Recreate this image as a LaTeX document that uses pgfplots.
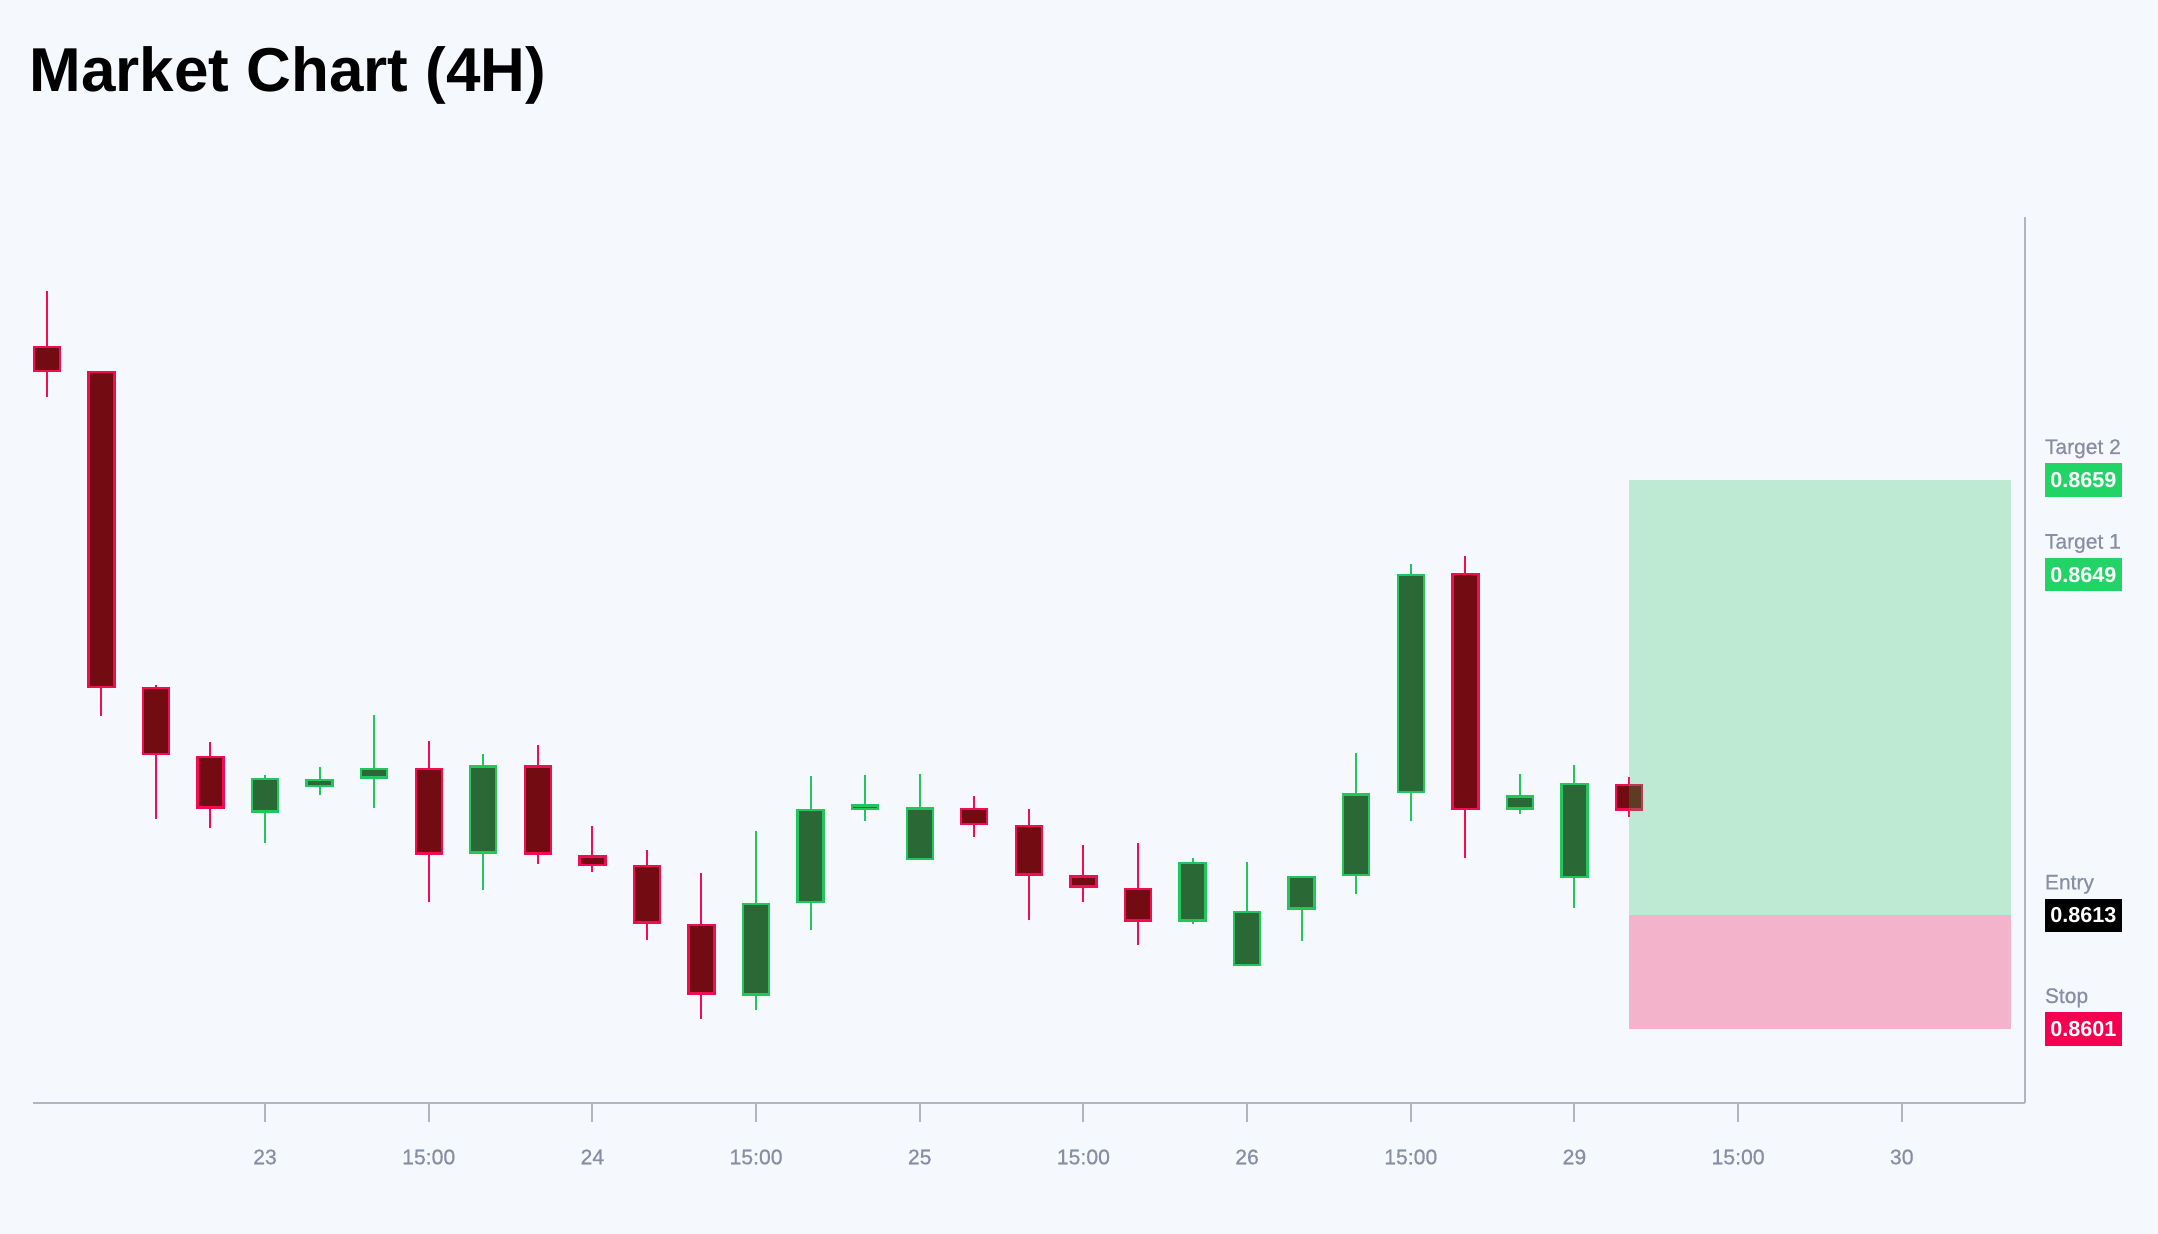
\documentclass[border=0pt]{standalone}
\usepackage{pgfplots}
\pgfplotsset{compat=1.18}
\usepackage{pgfplotstable}
\usepackage{fontspec}
\setmainfont{Liberation Sans}
\newfontfamily\medfont[FakeBold=0.6]{Liberation Sans}

\definecolor{bg}{RGB}{245,248,252}
\definecolor{bearfill}{RGB}{115,11,18}
\definecolor{bearline}{RGB}{242,12,82}
\definecolor{bullfill}{RGB}{42,104,54}
\definecolor{bullline}{RGB}{34,197,94}
\definecolor{axgray}{RGB}{178,181,190}
\definecolor{txtgray}{RGB}{137,141,166}
\definecolor{tgtgreen}{RGB}{34,211,102}
\definecolor{stopred}{RGB}{245,0,80}
\definecolor{zonegreen}{RGB}{34,197,94}
\definecolor{zonepink}{RGB}{240,20,90}

% bearish candles (close < open)
\pgfplotstableread{
i o h l c
0 0.867318 0.867897 0.866781 0.867037
1 0.867052 0.867052 0.863408 0.863700
2 0.863716 0.863731 0.862313 0.862989
3 0.862984 0.863127 0.862226 0.862426
7 0.862861 0.863137 0.861438 0.861940
9 0.862886 0.863101 0.861842 0.861940
10 0.861935 0.862242 0.861755 0.861822
11 0.861832 0.861991 0.861044 0.861213
12 0.861213 0.861745 0.860210 0.860461
17 0.862436 0.862559 0.862129 0.862252
18 0.862257 0.862421 0.861249 0.861720
19 0.861725 0.862047 0.861443 0.861592
20 0.861592 0.862068 0.860988 0.861233
26 0.864918 0.865097 0.861904 0.862411
29 0.862692 0.862759 0.862334 0.862405
}\bear
% bullish candles (close > open)
\pgfplotstableread{
i o h l c
4 0.862385 0.862784 0.862068 0.862753
5 0.862651 0.862871 0.862569 0.862743
6 0.862743 0.863419 0.862436 0.862856
8 0.861950 0.863009 0.861566 0.862886
13 0.860450 0.862190 0.860302 0.861433
14 0.861428 0.862769 0.861146 0.862426
15 0.862411 0.862779 0.862298 0.862472
16 0.861883 0.862789 0.861883 0.862441
21 0.861233 0.861904 0.861208 0.861863
22 0.860763 0.861863 0.860763 0.861351
23 0.861361 0.861720 0.861029 0.861720
24 0.861715 0.863014 0.861525 0.862590
25 0.862590 0.865015 0.862293 0.864908
27 0.862416 0.862794 0.862375 0.862569
28 0.861694 0.862886 0.861377 0.862702
}\bull

\pgfplotsset{
  candlebase/.style={draw=none, no markers, forget plot,
    error bars/.cd, y dir=plus, y explicit, error mark=none},
}
\tikzset{
  lvllab/.style={anchor=base west, inner sep=0pt, text=txtgray, font=\medfont\fontsize{10.5}{13}\selectfont},
  lvlbox/.style={anchor=west, inner sep=0pt, fill=#1, minimum width=38.5pt, minimum height=16.7pt, text=white, font=\bfseries\fontsize{10.8}{12}\selectfont},
}

\begin{document}
\begin{tikzpicture}[x=1pt,y=1pt]
\fill[bg] (0,0) rectangle (1079,617);
\node[anchor=base west, inner sep=0pt, font=\bfseries\fontsize{31}{36}\selectfont] at (14.5,571) {Market Chart (4H)};
\begin{axis}[
  at={(16.5pt,65.65pt)}, anchor=south west,
  scale only axis, width=995.75pt, height=442.7pt,
  xmin=-0.2529, xmax=36.25,
  ymin=0.859321, ymax=0.868675,
  axis x line*=bottom, axis y line*=right,
  axis line style={draw=axgray, line width=1pt},
  tick align=outside,
  major tick length=9.5pt, minor tick length=7pt,
  tick style={draw=axgray, line width=1pt},
  xtick={4,7,10,13,16,19,22,25,28,31,34},
  xticklabels={23,15:00,24,15:00,25,15:00,26,15:00,29,15:00,30},
  xticklabel style={anchor=base, yshift=-21.3pt, text=txtgray, font=\medfont\fontsize{10.6}{12}\selectfont},
  ytick=\empty,
  minor ytick={0.8601,0.8613,0.8649,0.8659},
  /pgf/number format/assume math mode=true,
  clip=false,
]
% wicks
\addplot[candlebase, error bar style={draw=bearline, line width=1pt}]
  table[x=i, y=l, y error plus expr=\thisrow{h}-\thisrow{l}] {\bear};
\addplot[candlebase, error bar style={draw=bullline, line width=1pt}]
  table[x=i, y=l, y error plus expr=\thisrow{h}-\thisrow{l}] {\bull};
% body outlines
\addplot[candlebase, error bar style={draw=bearline, line width=14.2pt}]
  table[x=i, y=c, y error plus expr=\thisrow{o}-\thisrow{c}] {\bear};
\addplot[candlebase, error bar style={draw=bullline, line width=14.2pt}]
  table[x=i, y=o, y error plus expr=\thisrow{c}-\thisrow{o}] {\bull};
% body fills
\addplot[candlebase, error bar style={draw=bearfill, line width=11.8pt, shorten <=1.2pt, shorten >=1.2pt}]
  table[x=i, y=c, y error plus expr=\thisrow{o}-\thisrow{c}] {\bear};
\addplot[candlebase, error bar style={draw=bullfill, line width=11.8pt, shorten <=1.2pt, shorten >=1.2pt}]
  table[x=i, y=o, y error plus expr=\thisrow{c}-\thisrow{o}] {\bull};
% zones
\addplot[draw=none, fill=zonegreen, fill opacity=0.26, forget plot] coordinates {(29,0.8613) (36,0.8613) (36,0.8659) (29,0.8659)} -- cycle;
\addplot[draw=none, fill=zonepink, fill opacity=0.30, forget plot] coordinates {(29,0.8601) (36,0.8601) (36,0.8613) (29,0.8613)} -- cycle;

% level labels
\node[lvllab] at ([xshift=10pt,yshift=13pt]axis cs:36.25,0.8659) {Target 2};
\node[lvlbox=tgtgreen] at ([xshift=10pt]axis cs:36.25,0.8659) {0.8659};
\node[lvllab] at ([xshift=10pt,yshift=13pt]axis cs:36.25,0.8649) {Target 1};
\node[lvlbox=tgtgreen] at ([xshift=10pt]axis cs:36.25,0.8649) {0.8649};
\node[lvllab] at ([xshift=10pt,yshift=13pt]axis cs:36.25,0.8613) {Entry};
\node[lvlbox=black] at ([xshift=10pt]axis cs:36.25,0.8613) {0.8613};
\node[lvllab] at ([xshift=10pt,yshift=13pt]axis cs:36.25,0.8601) {Stop};
\node[lvlbox=stopred] at ([xshift=10pt]axis cs:36.25,0.8601) {0.8601};
\end{axis}
\pgfresetboundingbox
\useasboundingbox (0,0) rectangle (1079,617);
\end{tikzpicture}
\end{document}
